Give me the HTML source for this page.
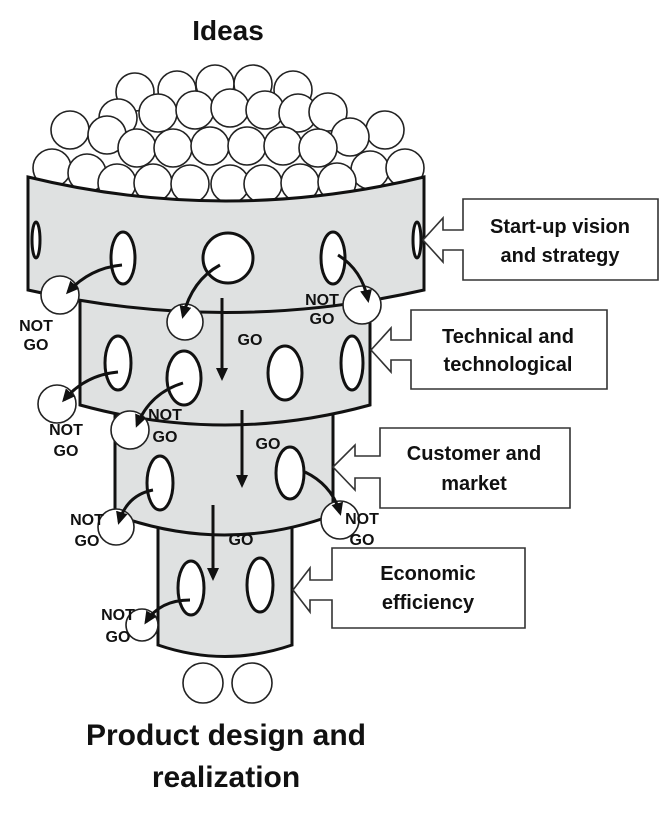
<!DOCTYPE html>
<html><head><meta charset="utf-8"><style>
body{margin:0;background:#fff}
svg{display:block}
text{font-family:"Liberation Sans",sans-serif;font-weight:bold;fill:#111}
</style></head><body>
<svg width="664" height="819" viewBox="0 0 664 819" xmlns="http://www.w3.org/2000/svg">
<defs>
<marker id="ah2" markerWidth="14" markerHeight="14" refX="10" refY="7" orient="auto" markerUnits="userSpaceOnUse"><path d="M0,1 L13,7 L0,13 z" fill="#111"/></marker></defs>
<text x="228" y="40" font-size="28" text-anchor="middle">Ideas</text>
<g fill="#fff" stroke="#222" stroke-width="1.6">
<circle cx="135" cy="92" r="19"/><circle cx="177" cy="90" r="19"/><circle cx="215" cy="84" r="19"/><circle cx="253" cy="84" r="19"/><circle cx="293" cy="90" r="19"/>
<circle cx="118" cy="118" r="19"/><circle cx="158" cy="113" r="19"/><circle cx="195" cy="110" r="19"/><circle cx="230" cy="108" r="19"/><circle cx="265" cy="110" r="19"/><circle cx="298" cy="113" r="19"/><circle cx="328" cy="112" r="19"/>
<circle cx="70" cy="130" r="19"/><circle cx="107" cy="135" r="19"/><circle cx="385" cy="130" r="19"/><circle cx="350" cy="137" r="19"/>
<circle cx="137" cy="148" r="19"/><circle cx="173" cy="148" r="19"/><circle cx="210" cy="146" r="19"/><circle cx="247" cy="146" r="19"/><circle cx="283" cy="146" r="19"/><circle cx="318" cy="148" r="19"/>
<circle cx="52" cy="168" r="19"/><circle cx="87" cy="173" r="19"/><circle cx="370" cy="170" r="19"/><circle cx="405" cy="168" r="19"/>
<circle cx="117" cy="183" r="19"/><circle cx="153" cy="183" r="19"/><circle cx="190" cy="184" r="19"/><circle cx="230" cy="184" r="19"/><circle cx="263" cy="184" r="19"/><circle cx="300" cy="183" r="19"/><circle cx="337" cy="182" r="19"/>
</g>
<g fill="#dfe1e1" stroke="#111" stroke-width="3">
<path d="M158,640 L158,500 L292,500 L292,645 Q225,668 158,645 Z"/>
<path d="M115,515 L115,400 L333,400 L333,515 Q225,555 115,515 Z"/>
<path d="M80,405 L80,300 L370,300 L370,405 Q225,445 80,405 Z"/>
<path d="M28,177 Q225,225 424,177 L424,290 Q225,335 28,290 Z"/>
</g>
<g fill="#fff" stroke="#111" stroke-width="3">
<ellipse cx="36" cy="240" rx="4" ry="18"/><ellipse cx="123" cy="258" rx="12" ry="26"/><circle cx="228" cy="258" r="25"/><ellipse cx="333" cy="258" rx="12" ry="26"/><ellipse cx="417" cy="240" rx="4" ry="18"/>
<ellipse cx="118" cy="363" rx="13" ry="27"/><ellipse cx="184" cy="378" rx="17" ry="27"/><ellipse cx="285" cy="373" rx="17" ry="27"/><ellipse cx="352" cy="363" rx="11" ry="27"/>
<ellipse cx="160" cy="483" rx="13" ry="27"/><ellipse cx="290" cy="473" rx="14" ry="26"/>
<ellipse cx="191" cy="588" rx="13" ry="27"/><ellipse cx="260" cy="585" rx="13" ry="27"/>
</g>
<g fill="#fff" stroke="#222" stroke-width="1.6">
<circle cx="60" cy="295" r="19"/><circle cx="185" cy="322" r="18"/><circle cx="362" cy="305" r="19"/>
<circle cx="57" cy="404" r="19"/><circle cx="130" cy="430" r="19"/>
<circle cx="116" cy="527" r="18"/><circle cx="340" cy="520" r="19"/>
<circle cx="142" cy="625" r="16"/>
<circle cx="203" cy="683" r="20"/><circle cx="252" cy="683" r="20"/>
</g>
<g fill="none" stroke="#111" stroke-width="3" marker-end="url(#ah2)">
<path d="M122,265 Q90,268 68,292"/>
<path d="M220,265 Q192,280 183,316"/>
<path d="M338,255 Q362,270 368,300"/>
<path d="M118,372 Q85,375 64,400"/>
<path d="M183,383 Q150,393 137,425"/>
<path d="M153,490 Q127,495 119,522"/>
<path d="M305,472 Q332,485 340,513"/>
<path d="M190,600 Q160,600 146,622"/>
<path d="M222,298 L222,378"/>
<path d="M242,410 L242,485"/>
<path d="M213,505 L213,578"/>
</g>
<g font-size="16" text-anchor="middle">
<text x="36" y="331">NOT</text><text x="36" y="350">GO</text>
<text x="322" y="305">NOT</text><text x="322" y="324">GO</text>
<text x="250" y="345">GO</text>
<text x="66" y="435">NOT</text><text x="66" y="456">GO</text>
<text x="165" y="420">NOT</text><text x="165" y="442">GO</text>
<text x="268" y="449">GO</text>
<text x="87" y="525">NOT</text><text x="87" y="546">GO</text>
<text x="362" y="524">NOT</text><text x="362" y="545">GO</text>
<text x="241" y="545">GO</text>
<text x="118" y="620">NOT</text><text x="118" y="642">GO</text>
</g>
<g fill="#fff" stroke="#333" stroke-width="1.6">
<path d="M463,199 L658,199 L658,280 L463,280 L463,250 L443,250 L443,262 L423,240 L443,218 L443,230 L463,230 Z"/>
<path d="M411,310 L607,310 L607,389 L411,389 L411,360 L391,360 L391,372 L371,350 L391,328 L391,340 L411,340 Z"/>
<path d="M380,428 L570,428 L570,508 L380,508 L380,478 L355,478 L355,490 L333,467 L355,445 L355,456 L380,456 Z"/>
<path d="M332,548 L525,548 L525,628 L332,628 L332,600 L310,600 L310,612 L293,590 L310,568 L310,580 L332,580 Z"/>
</g>
<g font-size="20" text-anchor="middle">
<text x="560" y="233">Start-up vision</text><text x="560" y="262">and strategy</text>
<text x="508" y="343">Technical and</text><text x="508" y="371">technological</text>
<text x="474" y="460">Customer and</text><text x="474" y="490">market</text>
<text x="428" y="580">Economic</text><text x="428" y="609">efficiency</text>
</g>
<text x="226" y="745" font-size="30" text-anchor="middle">Product design and</text>
<text x="226" y="787" font-size="30" text-anchor="middle">realization</text>
</svg>
</body></html>
